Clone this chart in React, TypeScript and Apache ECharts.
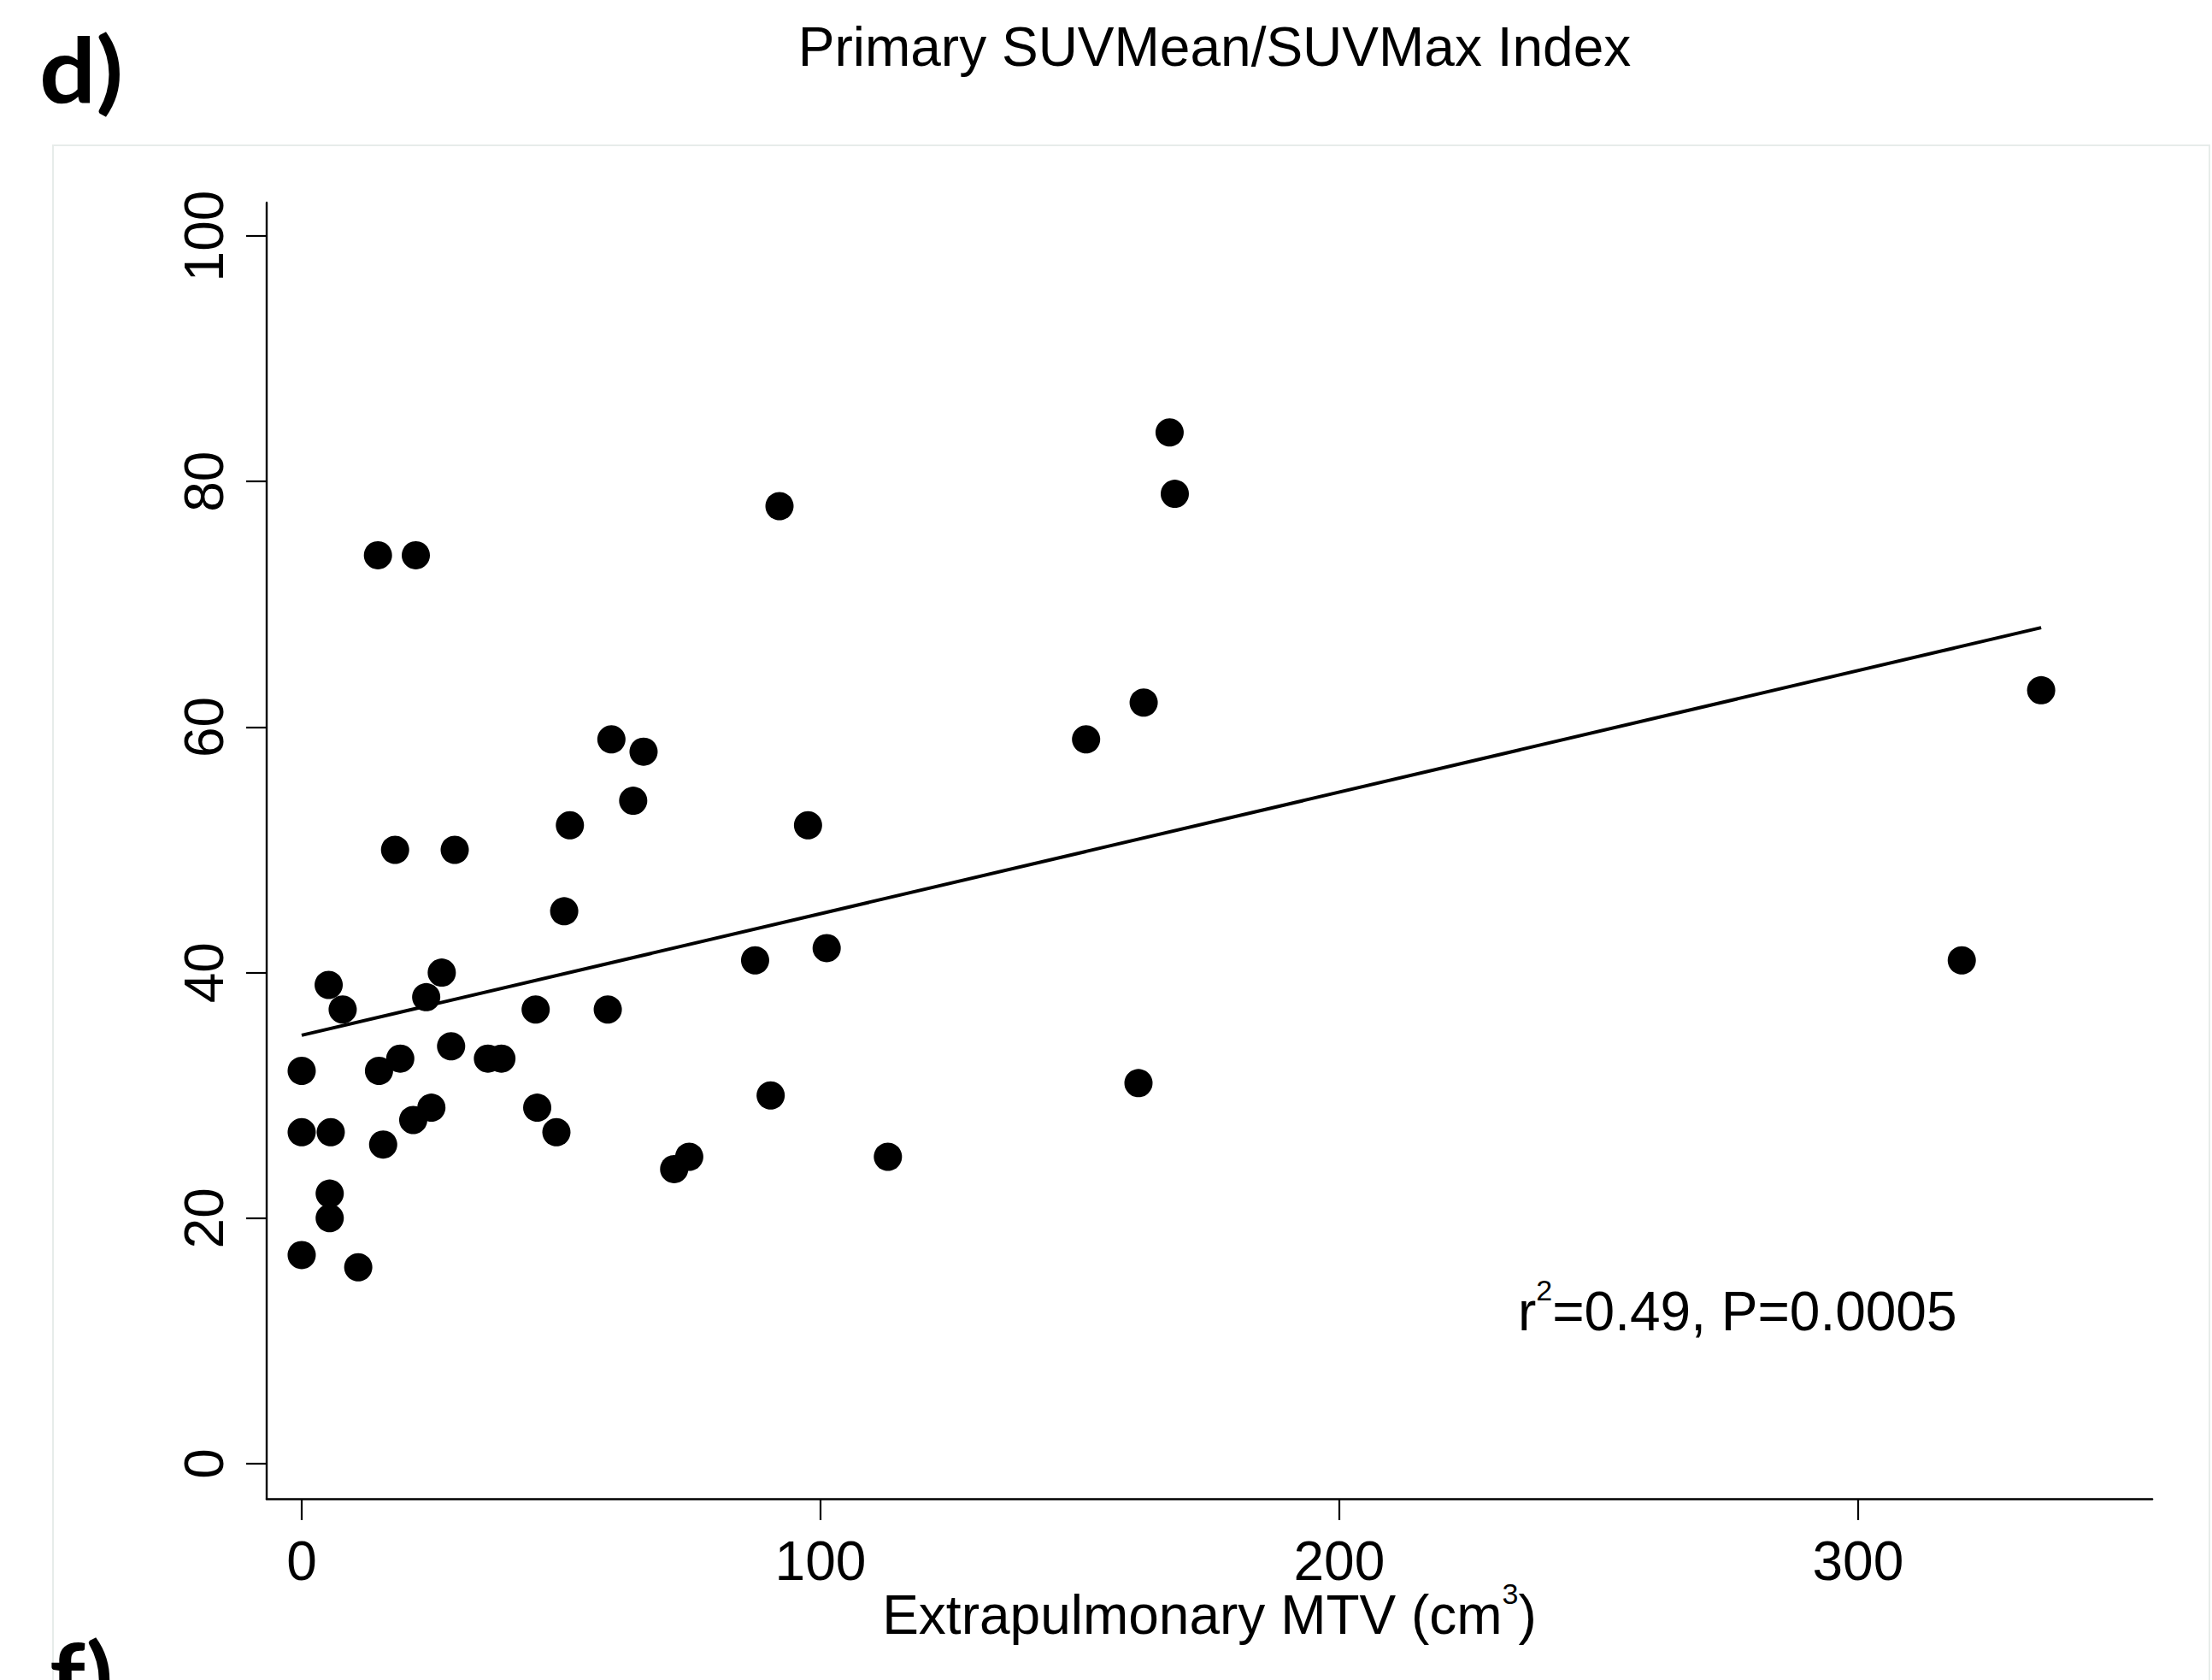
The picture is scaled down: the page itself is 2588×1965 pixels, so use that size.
import React, { useEffect, useRef } from 'react';
import * as echarts from 'echarts';

// ---- data ----
const mtv = [
  0, 0, 0, 5.2, 7.9, 5.6, 5.4, 5.4, 10.9, 14.7,
  22, 18, 14.9, 19, 15.7, 21.5, 24, 25, 27, 28.8,
  29.5, 35.9, 38.5, 45.1, 45.4, 49.1, 50.6, 51.7, 59.7, 59,
  63.9, 65.9, 71.8, 74.7, 87.4, 90.4, 92.1, 97.6, 101.2, 113,
  151.2, 161.3, 162.3, 167.3, 168.3, 320, 335.3,
];
const suvIndex = [
  32, 27, 17, 39, 37, 27, 22, 20, 16, 74,
  74, 50, 32, 33, 26, 28, 38, 29, 40, 34,
  50, 33, 33, 37, 29, 27, 45, 52, 59, 37,
  54, 58, 24, 25, 41, 30, 78, 52, 42, 25,
  59, 31, 62, 84, 79, 41, 63,
];
const fitX = [0, 335.3];
const fitY = [34.9, 68.1];
const xTicks = [0, 100, 200, 300];
const yTicks = [0, 20, 40, 60, 80, 100];
const titleText = 'Primary SUVMean/SUVMax Index';
const panelLabel = 'd)';
const nextPanelLabel = 'f)';
const xName = '{a|Extrapulmonary MTV (cm}{s|3}{a|)}';
const statText = '{a|r}{s|2}{a|=0.49, P=0.0005}';

const FONT = "'Liberation Sans', Arial, Helvetica, sans-serif";

export default function App() {
  const ref = useRef<HTMLDivElement>(null);

  useEffect(() => {
    if (!ref.current) return;
    const chart = echarts.init(ref.current, undefined, { renderer: 'svg' });

    const points = mtv.map((x, i) => [x, suvIndex[i]]);
    const fit = fitX.map((x, i) => [x, fitY[i]]);

    const richAxis = {
      a: { fontFamily: FONT, fontSize: 64, lineHeight: 84, color: '#000', verticalAlign: 'middle' },
      s: { fontFamily: FONT, fontSize: 34, color: '#000', verticalAlign: 'top' },
    };
    const richGraphic = {
      a: { fontFamily: FONT, fontSize: 64, lineHeight: 84, fill: '#000', verticalAlign: 'middle' },
      s: { fontFamily: FONT, fontSize: 34, fill: '#000', verticalAlign: 'top' },
    };

    chart.setOption({
      animation: false,
      backgroundColor: '#ffffff',
      grid: { left: 312, right: 70, top: 237, bottom: 212, containLabel: false },
      xAxis: {
        type: 'value',
        min: -6.75,
        max: 356.7,
        name: xName,
        nameLocation: 'middle',
        nameGap: 94,
        nameMoveOverlap: false,
        nameTextStyle: { rich: richAxis, fontFamily: FONT, fontSize: 64, color: '#000' },
        axisLine: { show: true, onZero: false, lineStyle: { color: '#000', width: 2.6 } },
        axisTick: { show: true, length: 25, lineStyle: { color: '#000', width: 2.2 }, customValues: xTicks },
        axisLabel: {
          fontFamily: FONT, fontSize: 64, color: '#000', margin: 41,
          customValues: xTicks,
        },
        splitLine: { show: false },
      },
      yAxis: {
        type: 'value',
        min: -2.855,
        max: 102.72,
        axisLine: { show: true, onZero: false, lineStyle: { color: '#000', width: 2.4 } },
        axisTick: { show: true, length: 24, lineStyle: { color: '#000', width: 2.2 }, customValues: yTicks },
        axisLabel: {
          fontFamily: FONT, fontSize: 64, color: '#000', margin: 41, rotate: 90,
          customValues: yTicks,
        },
        splitLine: { show: false },
      },
      series: [
        {
          type: 'line',
          data: fit,
          showSymbol: false,
          symbol: 'none',
          lineStyle: { color: '#000', width: 4 },
          z: 3,
          silent: true,
        },
        {
          type: 'scatter',
          data: points,
          symbol: 'circle',
          symbolSize: 33,
          itemStyle: { color: '#000', opacity: 1 },
          z: 4,
        },
      ],
      graphic: [
        {
          type: 'rect',
          silent: true,
          z: 0,
          shape: { x: 62, y: 170, width: 2523, height: 1900 },
          style: { fill: 'none', stroke: '#e7ecea', lineWidth: 2 },
        },
        {
          type: 'text',
          x: 46,
          y: 26,
          scaleX: 1.1,
          style: {
            text: panelLabel,
            font: "bold 106px Lato, 'Open Sans', sans-serif",
            fill: '#000',
            textAlign: 'left',
            textVerticalAlign: 'top',
          },
        },
        {
          type: 'text',
          x: 58,
          y: 1904,
          scaleX: 1.1,
          style: {
            text: nextPanelLabel,
            font: "bold 106px Lato, 'Open Sans', sans-serif",
            fill: '#000',
            textAlign: 'left',
            textVerticalAlign: 'top',
          },
        },
        {
          type: 'text',
          x: 1421,
          y: 55,
          style: {
            text: titleText,
            font: `64px ${FONT}`,
            fill: '#000',
            textAlign: 'center',
            textVerticalAlign: 'middle',
          },
        },
        {
          type: 'text',
          x: 1776,
          y: 1492,
          style: {
            text: statText,
            rich: richGraphic,
            fill: '#000',
            font: `64px ${FONT}`,
            textAlign: 'left',
            textVerticalAlign: 'top',
          },
        },
      ],
    });

    return () => chart.dispose();
  }, []);

  return (
    <div
      ref={ref}
      style={{ position: 'absolute', left: 0, top: 0, width: 2588, height: 1965, background: '#fff' }}
    />
  );
}
